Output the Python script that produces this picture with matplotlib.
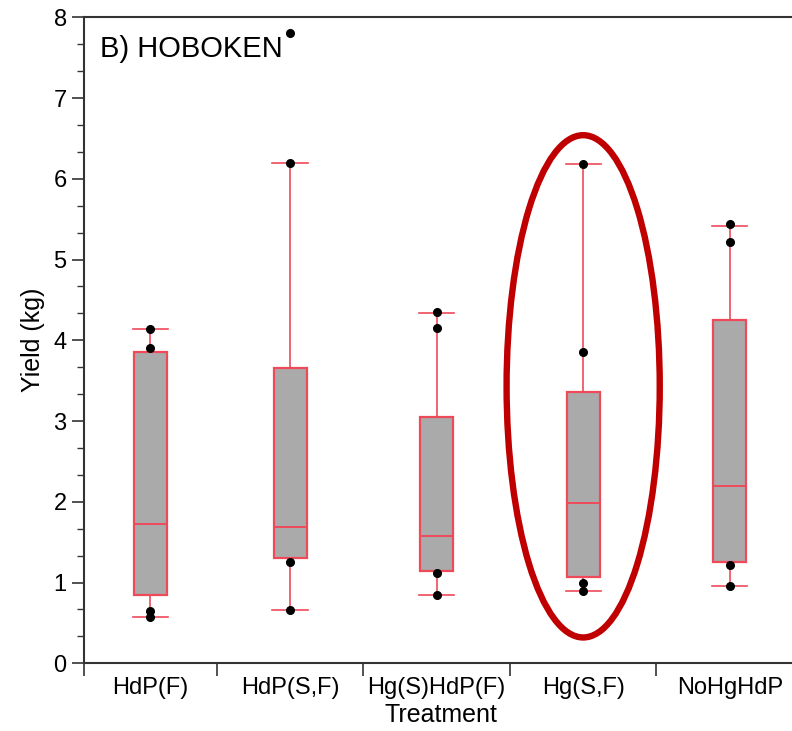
import matplotlib
matplotlib.use("Agg")
import matplotlib.pyplot as plt
from matplotlib.patches import Ellipse
from matplotlib.ticker import MultipleLocator, FixedLocator, NullFormatter

plt.rcParams['font.family'] = ['Liberation Sans', 'DejaVu Sans']

# Treatment groups and their box-plot summaries (kg)
treatments = ["HdP(F)", "HdP(S,F)", "Hg(S)HdP(F)", "Hg(S,F)", "NoHgHdP"]
whisker_low = [0.57, 0.66, 0.85, 0.89, 0.96]
q1 = [0.84, 1.30, 1.14, 1.07, 1.25]
median = [1.72, 1.69, 1.58, 1.99, 2.19]
q3 = [3.86, 3.66, 3.05, 3.36, 4.25]
whisker_high = [4.14, 6.20, 4.34, 6.18, 5.42]
outliers = [[], [7.81], [], [], []]

# Individual yields visible outside the boxes
points = [
    [4.14, 3.90, 0.65, 0.57],
    [6.20, 1.26, 0.66],
    [4.35, 4.15, 1.12, 0.85],
    [6.18, 3.85, 1.00, 0.89],
    [5.44, 5.22, 1.22, 0.96],
]

highlight = "Hg(S,F)"

edge = "#EE4A5A"
fill = "#AAAAAA"

fig = plt.figure(figsize=(7.92, 7.31), dpi=100)
ax = fig.add_axes([84 / 792, 67.7 / 731, 719 / 792, 646 / 731])

# Category bands: the first band is clipped by the y axis; each box sits at its band centre
x_left = -0.406
band_edges = [x_left] + [i + 0.5 for i in range(len(treatments))]
pos = [(band_edges[i] + band_edges[i + 1]) / 2 for i in range(len(treatments))]

stats = []
for i, name in enumerate(treatments):
    stats.append(dict(label=name, whislo=whisker_low[i], q1=q1[i], med=median[i],
                      q3=q3[i], whishi=whisker_high[i], fliers=outliers[i]))

ax.bxp(stats, positions=pos, widths=0.225, patch_artist=True, showfliers=True,
       boxprops=dict(facecolor=fill, edgecolor=edge, linewidth=1.6),
       medianprops=dict(color=edge, linewidth=1.4),
       whiskerprops=dict(color=edge, linewidth=1.2),
       capprops=dict(color=edge, linewidth=1.2),
       capwidths=0.24,
       flierprops=dict(marker='o', markerfacecolor='black', markeredgecolor='black',
                       markersize=5.5),
       zorder=2)

for i, vals in enumerate(points):
    ax.plot([pos[i]] * len(vals), vals, 'o', color='black', markersize=5.5, zorder=3)

# Emphasis ring around one treatment
hi = treatments.index(highlight)
ax.add_patch(Ellipse((pos[hi], 3.43), width=1.045, height=6.22, fill=False,
                     edgecolor='#C00000', linewidth=4.6, zorder=4))

ax.set_xlim(band_edges[0], band_edges[-1])
ax.set_ylim(0, 8)

ax.yaxis.set_major_locator(MultipleLocator(1))
ax.yaxis.set_minor_locator(MultipleLocator(1 / 3))
ax.tick_params(axis='y', which='major', length=9, width=1.2, labelsize=17, pad=3.5,
               color='#333333')
ax.tick_params(axis='y', which='minor', length=5, width=1.0, color='#333333')

ax.set_xticks(pos)
ax.set_xticklabels(treatments)
ax.xaxis.set_minor_locator(FixedLocator(band_edges[:-1]))
ax.xaxis.set_minor_formatter(NullFormatter())
ax.tick_params(axis='x', which='major', length=0, labelsize=17, pad=10)
ax.tick_params(axis='x', which='minor', length=9, width=1.2, color='#333333')

for side in ('left', 'bottom', 'top'):
    ax.spines[side].set_color('#333333')
    ax.spines[side].set_linewidth(1.5)
ax.spines['right'].set_visible(False)

ax.set_ylabel('Yield (kg)', fontsize=18, va='center')
ax.yaxis.set_label_coords(-0.071, 0.5)
ax.set_xlabel('Treatment', fontsize=18, va='center')
ax.xaxis.set_label_coords(0.497, -0.08)

ax.text(0.022, 0.972, 'B) HOBOKEN', transform=ax.transAxes, fontsize=21,
        ha='left', va='top')

fig.savefig('out.png', dpi=100)
